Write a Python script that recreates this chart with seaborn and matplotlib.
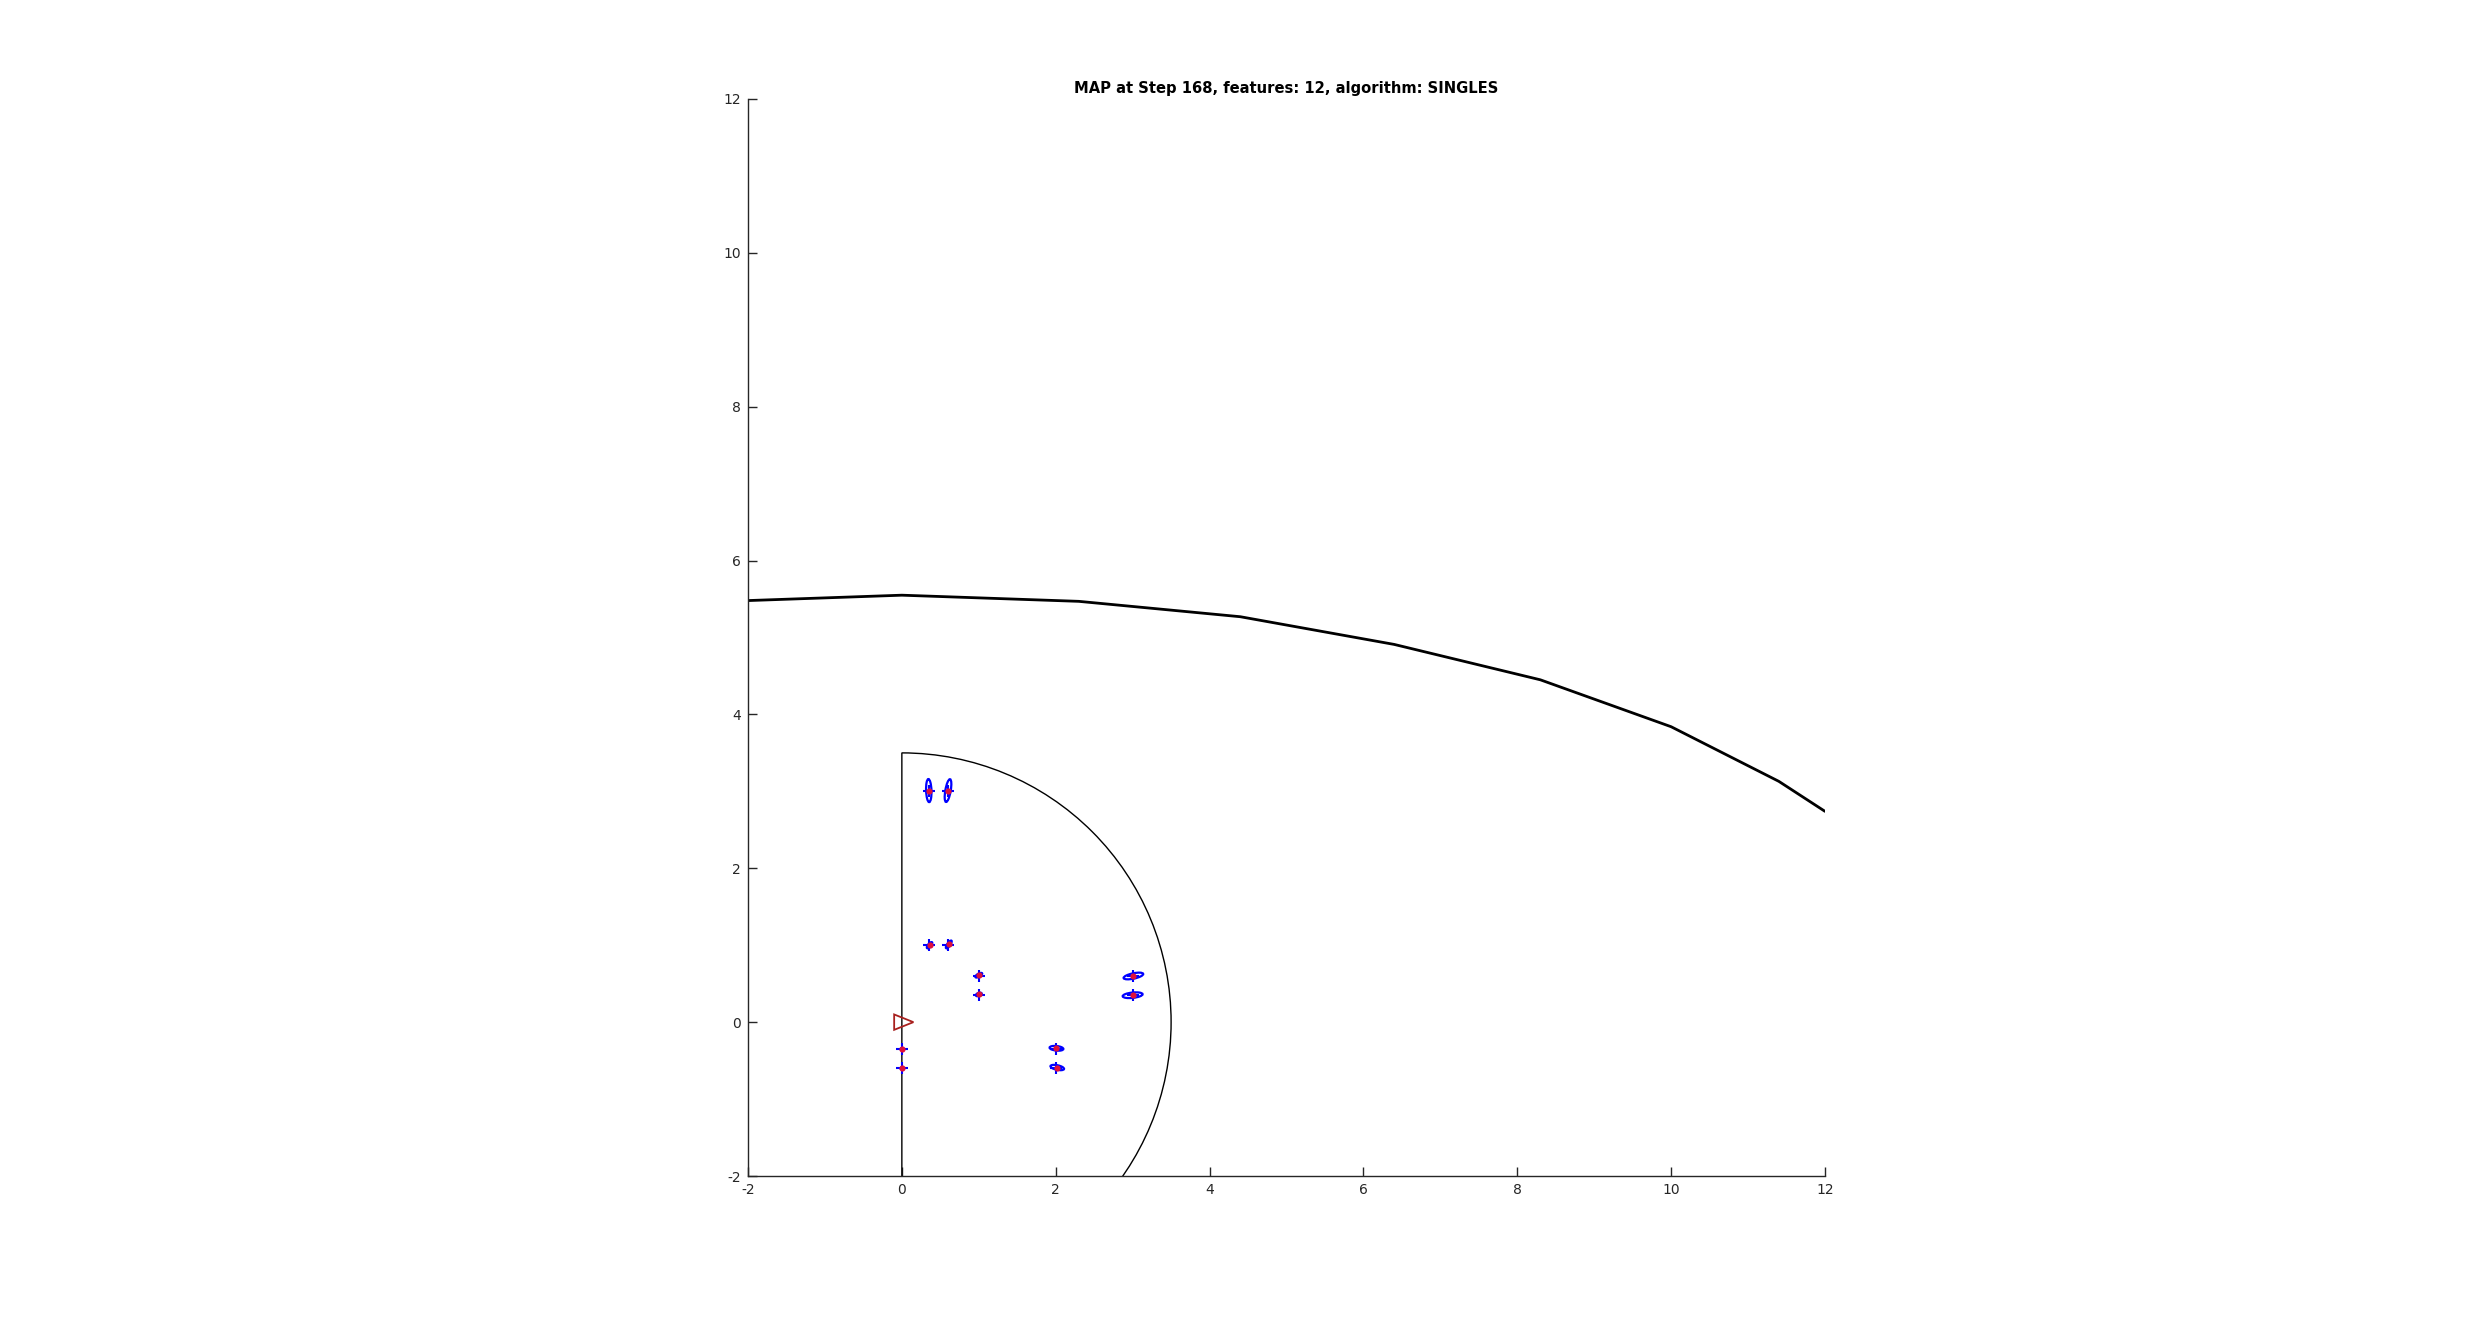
import numpy as np
import matplotlib
matplotlib.use("Agg")
import matplotlib.pyplot as plt
import seaborn as sns
from matplotlib.patches import Ellipse, Wedge, Polygon

# ground truth landmarks
feat_x = [0.35, 0.60, 0.35, 0.60, 1.00, 1.00, 3.00, 3.00, 2.00, 2.00, 0.00, 0.00]
feat_y = [3.00, 3.00, 1.00, 1.00, 0.60, 0.35, 0.60, 0.35, -0.35, -0.60, -0.35, -0.60]
# estimated landmarks
est_x = [0.35, 0.60, 0.36, 0.61, 1.00, 1.00, 3.01, 3.00, 2.01, 2.02, 0.00, 0.00]
est_y = [3.01, 3.01, 1.00, 1.01, 0.61, 0.36, 0.60, 0.35, -0.34, -0.59, -0.35, -0.60]
# covariance ellipse semi-axes (major, minor) and angle in degrees
ell_a = [0.15, 0.15, 0.05, 0.06, 0.05, 0.04, 0.13, 0.13, 0.09, 0.09, 0.02, 0.02]
ell_b = [0.035, 0.035, 0.02, 0.02, 0.02, 0.02, 0.035, 0.035, 0.03, 0.03, 0.01, 0.01]
ell_ang = [92, 80, 50, 55, 30, 20, 12, 6, -6, -12, 0, 0]

# thick map line
path_x = [-2.0, 0.0, 2.3, 4.4, 6.4, 8.3, 10.0, 11.4, 12.0]
path_y = [5.48, 5.55, 5.47, 5.27, 4.91, 4.45, 3.84, 3.13, 2.74]

robot_x, robot_y, robot_theta = 0.0, 0.0, 0.0
sensor_range = 3.5
tri_x = [-0.1, 0.15, -0.1]
tri_y = [0.1, 0.0, -0.1]

ticks = [-2, 0, 2, 4, 6, 8, 10, 12]

sns.set_style("ticks")
plt.rcParams["axes.unicode_minus"] = False
fig = plt.figure(figsize=(24.86, 13.21), dpi=100)
ax = fig.add_axes([748 / 2486, 145 / 1321, 1077 / 2486, 1077 / 1321])

# sensor range
ax.add_patch(Wedge((robot_x, robot_y), sensor_range, -90, 90, fill=False,
                   edgecolor="black", lw=1.0))

sns.lineplot(x=path_x, y=path_y, sort=False, estimator=None, color="black",
             lw=2.0, ax=ax)

for x, y, a, b, ang in zip(est_x, est_y, ell_a, ell_b, ell_ang):
    ax.add_patch(Ellipse((x, y), 2 * a, 2 * b, angle=ang, fill=False,
                         edgecolor="#0000ff", lw=1.6))

sns.scatterplot(x=feat_x, y=feat_y, marker="+", color="#0000ff", s=80,
                linewidth=1.5, ax=ax, zorder=4)
sns.scatterplot(x=est_x, y=est_y, marker="o", color="#e0103a", s=20,
                linewidth=0, ax=ax, zorder=5)

c, s = np.cos(robot_theta), np.sin(robot_theta)
pts = [(robot_x + c * tx - s * ty, robot_y + s * tx + c * ty) for tx, ty in zip(tri_x, tri_y)]
ax.add_patch(Polygon(pts, closed=True, fill=False, edgecolor="#a8201e", lw=1.3))

ax.set_xlim(-2, 12)
ax.set_ylim(-2, 12)
ax.set_aspect("equal", adjustable="box")
ax.set_xticks(ticks)
ax.set_yticks(ticks)
ax.tick_params(direction="in", length=6.5, width=1, labelsize=10,
               colors="#262626", pad=5)
sns.despine(ax=ax)
for sp in ("left", "bottom"):
    ax.spines[sp].set_linewidth(1.0)
    ax.spines[sp].set_color("#262626")

ax.set_title("MAP at Step 168, features: 12, algorithm: SINGLES",
             fontsize=10.6, fontweight="bold", color="black", pad=4)

fig.savefig("out.png", dpi=100)
